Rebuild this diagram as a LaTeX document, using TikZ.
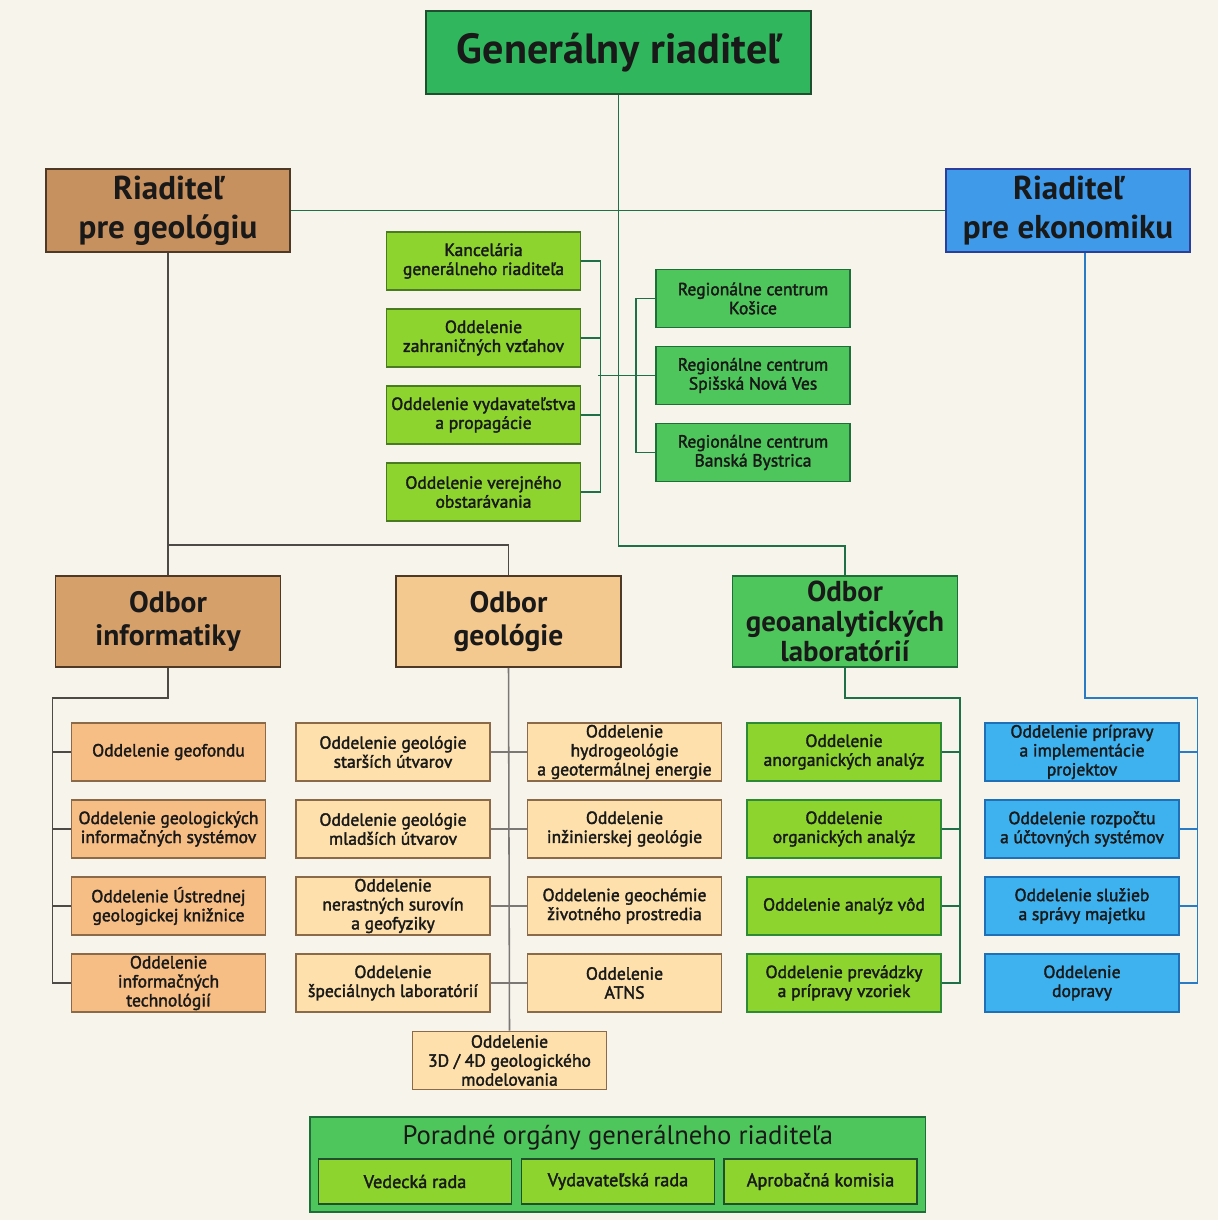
\documentclass[tikz,border=0pt]{standalone}
\usepackage{fontspec}
\setmainfont{PT Sans}
\newfontfamily\deptfont[FakeBold=2]{PT Sans}
\usetikzlibrary{calc}
\definecolor{bgcream}{HTML}{F7F4EC}
\definecolor{gencol}{HTML}{30B65C}
\definecolor{gendraw}{HTML}{1F4F2F}
\definecolor{tancol}{HTML}{C7915F}
\definecolor{tandraw}{HTML}{4E3826}
\definecolor{ecocol}{HTML}{3F9BEA}
\definecolor{ecodraw}{HTML}{2C3E9A}
\definecolor{limecol}{HTML}{8DD42E}
\definecolor{limedraw}{HTML}{4A7A22}
\definecolor{regcol}{HTML}{4FC65B}
\definecolor{regdraw}{HTML}{1F6E3A}
\definecolor{infcol}{HTML}{D6A06A}
\definecolor{geocol}{HTML}{F4C990}
\definecolor{infdept}{HTML}{F6BD85}
\definecolor{geodept}{HTML}{FDE0AC}
\definecolor{deptdraw}{HTML}{8A6A48}
\definecolor{labdraw}{HTML}{2F8A35}
\definecolor{ecodept}{HTML}{3EB1EF}
\definecolor{ecodeptdraw}{HTML}{2070B8}
\definecolor{glinecol}{HTML}{1F7048}
\definecolor{ilinecol}{HTML}{4D4A45}
\definecolor{olinecol}{HTML}{7A7774}
\definecolor{elinecol}{HTML}{2A7BC6}
\begin{document}
\begin{tikzpicture}[x=0.025cm, y=-0.025cm,
  box/.style={draw, line width=1.2pt, align=center, inner sep=0pt, text=black!90},
  head/.style={box, minimum width=6.1cm, minimum height=2.075cm, font=\bfseries\fontsize{23.5}{27.5}\selectfont},
  odbor/.style={box, draw=tandraw, minimum width=5.625cm, minimum height=2.275cm, font=\bfseries\fontsize{21}{24}\selectfont},
  dept/.style={box, minimum width=4.85cm, minimum height=1.45cm, font=\deptfont\fontsize{12.5}{13.5}\selectfont},
  glink/.style={draw=glinecol, line width=1.1pt},
  ilink/.style={draw=ilinecol, line width=1.1pt},
  olink/.style={draw=olinecol, line width=1.1pt},
  elink/.style={draw=elinecol, line width=1.1pt}]
\fill[bgcream] (0,0) rectangle (1218,1220);
\useasboundingbox (0,0) rectangle (1218,1220);

% top management
\node[box, fill=gencol, draw=gendraw, minimum width=9.625cm, minimum height=2.075cm,
  font=\bfseries\fontsize{30}{34}\selectfont] (gr) at (618.5,52.5) {Generálny riaditeľ};
\node[head, fill=tancol, draw=tandraw] (rg) at (168,210.5) {Riaditeľ\\pre geológiu};
\node[head, fill=ecocol, draw=ecodraw] (re) at (1068,210.5) {Riaditeľ\\pre ekonomiku};

% offices under the general director
\foreach \t [count=\i] in {{Kancelária\\generálneho riaditeľa}, {Oddelenie\\zahraničných vzťahov},
    {Oddelenie vydavateľstva\\a propagácie}, {Oddelenie verejného\\obstarávania}}
  \node[dept, fill=limecol, draw=limedraw] (of\i) at (483.5,184+77*\i) {\t};
\foreach \t [count=\i] in {{Regionálne centrum\\Košice}, {Regionálne centrum\\Spišská Nová Ves},
    {Regionálne centrum\\Banská Bystrica}}
  \node[dept, fill=regcol, draw=regdraw] (rc\i) at (753,221.5+77*\i) {\t};

% odbory
\node[odbor, fill=infcol] (odinf) at (168,621.5) {Odbor\\informatiky};
\node[odbor, fill=geocol] (odgeo) at (508.5,621.5) {Odbor\\geológie};
\node[odbor, fill=regcol, draw=regdraw, font=\bfseries\fontsize{20.5}{21.5}\selectfont] (odgal) at (845,621.5)
  {Odbor\\geoanalytických\\laboratórií};

% departments
\foreach \t [count=\i] in {{Oddelenie geofondu}, {Oddelenie geologických\\informačných systémov},
    {Oddelenie Ústrednej\\geologickej knižnice}, {Oddelenie\\informačných\\technológií}}
  \node[dept, fill=infdept, draw=deptdraw] (inf\i) at (168.5,675+77*\i) {\t};
\foreach \t [count=\i] in {{Oddelenie geológie\\starších útvarov}, {Oddelenie geológie\\mladších útvarov},
    {Oddelenie\\nerastných surovín\\a geofyziky}, {Oddelenie\\špeciálnych laboratórií}}
  \node[dept, fill=geodept, draw=deptdraw] (gl\i) at (393,675+77*\i) {\t};
\foreach \t [count=\i] in {{Oddelenie\\hydrogeológie\\a geotermálnej energie}, {Oddelenie\\inžinierskej geológie},
    {Oddelenie geochémie\\životného prostredia}, {Oddelenie\\ATNS}}
  \node[dept, fill=geodept, draw=deptdraw] (gp\i) at (624.5,675+77*\i) {\t};
\node[dept, fill=geodept, draw=deptdraw] (m3d) at (509.5,1060.5) {Oddelenie\\3D / 4D geologického\\modelovania};
\foreach \t [count=\i] in {{Oddelenie\\anorganických analýz}, {Oddelenie\\organických analýz},
    {Oddelenie analýz vôd}, {Oddelenie prevádzky\\a prípravy vzoriek}}
  \node[dept, fill=limecol, draw=labdraw] (lab\i) at (844,675+77*\i) {\t};
\foreach \t [count=\i] in {{Oddelenie prípravy\\a implementácie\\projektov}, {Oddelenie rozpočtu\\a účtovných systémov},
    {Oddelenie služieb\\a správy majetku}, {Oddelenie\\dopravy}}
  \node[dept, fill=ecodept, draw=ecodeptdraw] (ec\i) at (1082,675+77*\i) {\t};

% advisory bodies
\node[box, fill=regcol, draw=regdraw, minimum width=15.39cm, minimum height=2.375cm] (porad) at (617.75,1164.5) {};
\node[font=\fontsize{19}{22}\selectfont, text=black!90] (poradt) at (617.75,1138) {Poradné orgány generálneho riaditeľa};
\foreach \t/\x [count=\i] in {Vedecká rada/415, Vydavateľská rada/618, Aprobačná komisia/820.5}
  \node[box, fill=limecol, draw=gendraw, minimum width=4.825cm, minimum height=1.125cm,
    font=\deptfont\fontsize{13}{14}\selectfont] (rada\i) at (\x,1181.5) {\t};

% connectors
\coordinate (jgeo) at (168,545);
\coordinate (ibus) at (52.5,698);
\coordinate (lbus) at (960,698);
\coordinate (ebus) at (1197.5,698);
\draw[glink] (rg.east) -- (re.west);
\draw[glink] (gr.south) -- ++(0,451) -| (odgal.north);
\draw[glink] (of1.east) -- ++(19,0) |- (of4.east);
\draw[glink] (of2.east) -- ++(19,0);
\draw[glink] (of3.east) -- ++(19,0);
\draw[glink] (rc2.west) -- ++(-57,0);
\draw[glink] (rc1.west) -- ++(-19,0) |- (rc3.west);
\draw[ilink] (rg.south) -- (odinf.north);
\draw[ilink] (jgeo) -| (odgeo.north);
\draw[ilink] (odinf.south) |- (ibus) |- (inf4.west);
\foreach \i in {1,2,3} \draw[ilink] (inf\i.west) -- (inf\i.west -| ibus);
\draw[olink] (odgeo.south) -- (m3d.north);
\foreach \i in {1,...,4} \draw[olink] (gl\i.east) -- (gp\i.west);
\draw[glink] (odgal.south) |- (lbus) |- (lab4.east);
\foreach \i in {1,2,3} \draw[glink] (lab\i.east) -- (lab\i.east -| lbus);
\draw[elink] ($(re.south)+(17,0)$) |- (ebus) |- (ec4.east);
\foreach \i in {1,2,3} \draw[elink] (ec\i.east) -- (ec\i.east -| ebus);
\end{tikzpicture}
\end{document}
